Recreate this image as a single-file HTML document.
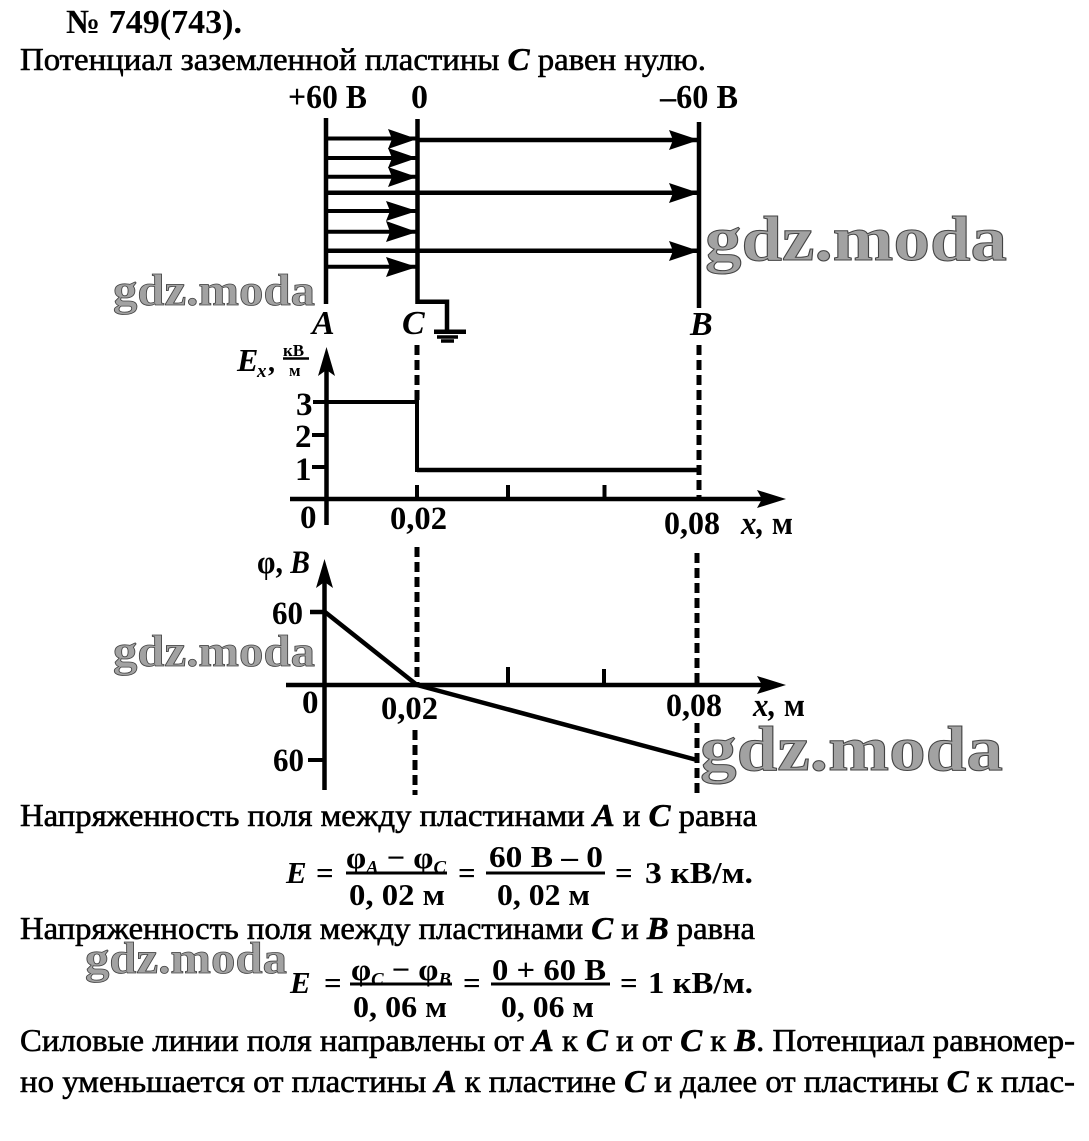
<!DOCTYPE html>
<html><head><meta charset="utf-8"><style>
html,body{margin:0;padding:0;background:#fff}
svg{display:block}
text{font-family:"Liberation Serif","DejaVu Serif",serif;fill:#000}
.t{font-size:32px;stroke:#000;stroke-width:.6}
.b{font-size:34px;font-weight:bold}
.l{font-size:33px;font-weight:bold}
.f{font-size:31px;font-weight:bold}
.i{font-style:italic;font-weight:bold}
.w{font-weight:bold;fill:#a2a2a2;stroke:#444;stroke-width:1;font-size:64px}
.s{font-size:44px;stroke-width:.8}
.ln{stroke:#000;fill:none;stroke-width:4.5}
.th{stroke:#000;fill:none;stroke-width:4}
.d{stroke:#000;fill:none;stroke-width:5;stroke-dasharray:10 5}
</style></head><body>
<svg width="1089" height="1141" viewBox="0 0 1089 1141" xmlns="http://www.w3.org/2000/svg">
<rect width="1089" height="1141" fill="#fff"/>

<text class="b" x="66" y="33" textLength="176" lengthAdjust="spacingAndGlyphs">№ 749(743).</text>
<text class="t" x="20" y="70" textLength="686" lengthAdjust="spacingAndGlyphs">Потенциал заземленной пластины <tspan class="i">C</tspan> равен нулю.</text>

<text class="w" x="705" y="260" textLength="302" lengthAdjust="spacingAndGlyphs">gdz.moda</text>
<text class="w" x="700" y="770" textLength="303" lengthAdjust="spacingAndGlyphs">gdz.moda</text>
<text class="w s" x="113" y="305" textLength="202" lengthAdjust="spacingAndGlyphs">gdz.moda</text>
<text class="w s" x="113" y="666" textLength="202" lengthAdjust="spacingAndGlyphs">gdz.moda</text>
<text class="w s" x="85" y="973" textLength="202" lengthAdjust="spacingAndGlyphs">gdz.moda</text>

<!-- plates -->
<path class="ln" d="M326 118V304M417.5 119V301.7H447V331"/>
<path class="ln" d="M699 122V308"/>
<path d="M434 331.7H466" stroke="#000" stroke-width="4.5"/>
<path d="M437 337H458" stroke="#000" stroke-width="3.5"/>
<path d="M441 341H454" stroke="#000" stroke-width="3.5"/>
<!-- field lines -->
<path class="th" d="M326 138.5H417M326 158H417M326 176.7H417M326 211H417M326 231.7H417M326 266.7H417"/>
<path class="ln" d="M417 140H699M326 192.7H699M326 250.7H699"/>
<g fill="#000">
<path d="M388 129L417 139L388 149L392 139Z"/>
<path d="M388 148L417 158L388 168L392 158Z"/>
<path d="M388 167L417 177L388 187L392 177Z"/>
<path d="M386 201L417 211L386 221L390 211Z"/>
<path d="M386 221L417 232L386 242L390 232Z"/>
<path d="M386 257L417 267L386 277L390 267Z"/>
<path d="M669 130L699 140L669 150L673 140Z"/>
<path d="M669 183L699 193L669 203L673 193Z"/>
<path d="M669 241L699 251L669 261L673 251Z"/>
</g>
<text class="b" x="288" y="108" textLength="79" lengthAdjust="spacingAndGlyphs">+60 В</text>
<text class="b" x="411" y="108">0</text>
<text class="b" x="660" y="108" textLength="78" lengthAdjust="spacingAndGlyphs">–60 В</text>
<text class="b i" x="312" y="334">A</text>
<text class="b i" x="402" y="334">C</text>
<text class="b i" x="690" y="335">B</text>

<!-- E graph -->
<path class="d" d="M417 345V402"/>
<path class="d" d="M699 345V499"/>
<path class="ln" d="M326.5 360V525M290 499H765"/>
<path d="M326.5 347L335 376L326.5 370L318 376Z" fill="#000"/>
<path d="M786 499L757 490L762 499L757 508Z" fill="#000"/>
<path class="th" d="M313 402H417V470H697"/>
<path class="ln" d="M417 470H697" />
<path class="th" d="M312 435H326M312 467H326M417 485V499M508 485V499M604.5 485V499"/>
<text class="l" x="296" y="415">3</text>
<text class="l" x="295" y="447">2</text>
<text class="l" x="295" y="480">1</text>
<text class="l" x="300" y="528">0</text>
<text class="l" x="390" y="529" textLength="57" lengthAdjust="spacingAndGlyphs">0,02</text>
<text class="l" x="664" y="534" textLength="56" lengthAdjust="spacingAndGlyphs">0,08</text>
<text class="l" x="741" y="534" textLength="52" lengthAdjust="spacingAndGlyphs"><tspan class="i">x,</tspan> м</text>
<text class="l i" x="237" y="371" style="font-size:32px">E</text>
<text class="l i" x="257" y="377" style="font-size:19px">x</text>
<text class="l" x="268" y="371" style="font-size:28px">,</text>
<text class="l" x="283" y="356" style="font-size:17px">кВ</text>
<path d="M283 358.5H309" stroke="#000" stroke-width="2.5"/>
<text class="l" x="289" y="376" style="font-size:17px">м</text>

<!-- phi graph -->
<path class="d" d="M417 547V683"/>
<path class="d" d="M415 730V795"/>
<path class="d" d="M697 553V684"/>
<path class="d" d="M697 723V795"/>
<path class="ln" d="M324.5 572V790M286 685H765"/>
<path d="M324.5 559L333 588L324.5 582L316 588Z" fill="#000"/>
<path d="M786 685L757 676L762 685L757 694Z" fill="#000"/>
<path class="ln" d="M310 612H325L417 685L697 760"/>
<path class="th" d="M308 760H325M508 667V685M604 669V685"/>
<text class="l" x="257" y="573" textLength="53" lengthAdjust="spacingAndGlyphs">φ, <tspan class="i">B</tspan></text>
<text class="l" x="272" y="624" textLength="31" lengthAdjust="spacingAndGlyphs">60</text>
<text class="l" x="302" y="713">0</text>
<text class="l" x="381" y="719" textLength="57" lengthAdjust="spacingAndGlyphs">0,02</text>
<text class="l" x="666" y="716" textLength="56" lengthAdjust="spacingAndGlyphs">0,08</text>
<text class="l" x="753" y="716" textLength="52" lengthAdjust="spacingAndGlyphs"><tspan class="i">x,</tspan> м</text>
<text class="l" x="273" y="771" textLength="31" lengthAdjust="spacingAndGlyphs">60</text>

<text class="t" x="20" y="826" textLength="737" lengthAdjust="spacingAndGlyphs">Напряженность поля между пластинами <tspan class="i">A</tspan> и <tspan class="i">C</tspan> равна</text>

<!-- formula 1 -->
<text class="f i" x="286" y="883">E</text>
<text class="f" x="316" y="883">=</text>
<text class="f" x="346" y="868" textLength="100" lengthAdjust="spacingAndGlyphs">φ<tspan class="i" font-size="18" dy="5">A</tspan><tspan dy="-5"> − φ</tspan><tspan class="i" font-size="18" dy="5">C</tspan></text>
<path d="M346 873H447M486 873H605" stroke="#000" stroke-width="3"/>
<text class="f" x="349" y="905" textLength="96" lengthAdjust="spacingAndGlyphs">0, 02 м</text>
<text class="f" x="458" y="883">=</text>
<text class="f" x="489" y="867" textLength="114" lengthAdjust="spacingAndGlyphs">60 В – 0</text>
<text class="f" x="497" y="905" textLength="93" lengthAdjust="spacingAndGlyphs">0, 02 м</text>
<text class="f" x="615" y="883">=</text>
<text class="f" x="645" y="883" textLength="108" lengthAdjust="spacingAndGlyphs">3 кВ/м.</text>

<text class="t" x="20" y="939" textLength="735" lengthAdjust="spacingAndGlyphs">Напряженность поля между пластинами <tspan class="i">C</tspan> и <tspan class="i">B</tspan> равна</text>

<!-- formula 2 -->
<text class="f i" x="290" y="993">E</text>
<text class="f" x="324" y="993">=</text>
<text class="f" x="351" y="980" textLength="100" lengthAdjust="spacingAndGlyphs">φ<tspan class="i" font-size="18" dy="5">C</tspan><tspan dy="-5"> − φ</tspan><tspan class="i" font-size="18" dy="5">B</tspan></text>
<path d="M350 984H452M491 984H610" stroke="#000" stroke-width="3"/>
<text class="f" x="353" y="1017" textLength="94" lengthAdjust="spacingAndGlyphs">0, 06 м</text>
<text class="f" x="463" y="993">=</text>
<text class="f" x="492" y="980" textLength="114" lengthAdjust="spacingAndGlyphs">0 + 60 В</text>
<text class="f" x="501" y="1017" textLength="93" lengthAdjust="spacingAndGlyphs">0, 06 м</text>
<text class="f" x="620" y="993">=</text>
<text class="f" x="648" y="993" textLength="105" lengthAdjust="spacingAndGlyphs">1 кВ/м.</text>

<text class="t" x="20" y="1051" textLength="1055" lengthAdjust="spacingAndGlyphs">Силовые линии поля направлены от <tspan class="i">A</tspan> к <tspan class="i">C</tspan> и от <tspan class="i">C</tspan> к <tspan class="i">B</tspan>. Потенциал равномер-</text>
<text class="t" x="20" y="1092" textLength="1055" lengthAdjust="spacingAndGlyphs">но уменьшается от пластины <tspan class="i">A</tspan> к пластине <tspan class="i">C</tspan> и далее от пластины <tspan class="i">C</tspan> к плас-</text>
</svg>
</body></html>
